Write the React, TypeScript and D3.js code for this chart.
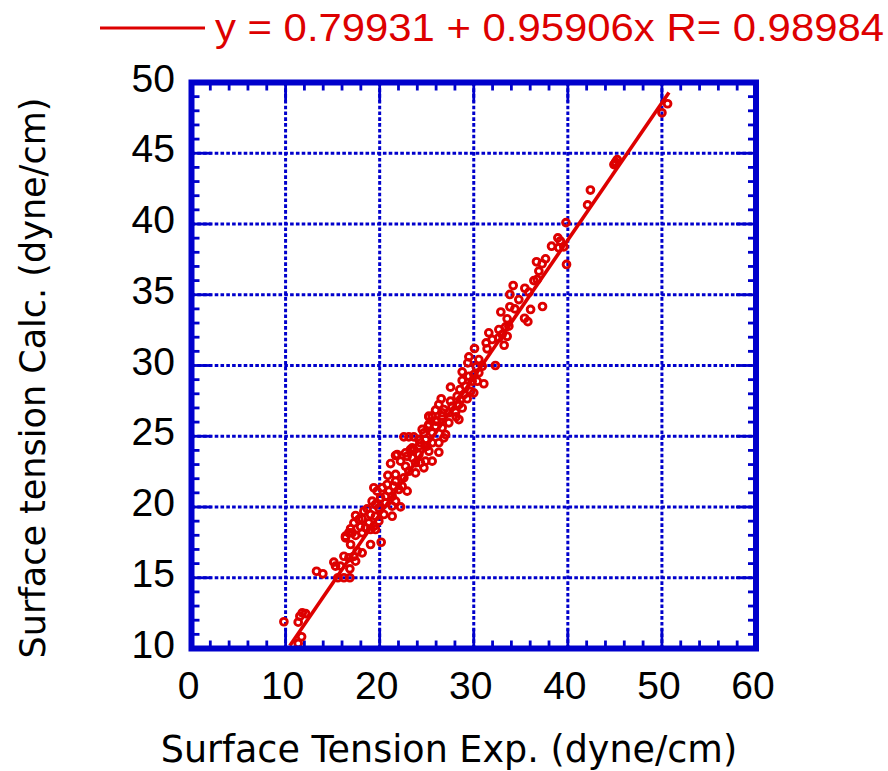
import React from "react";
import * as d3 from "d3";

const xTickLabels = ["0", "10", "20", "30", "40", "50", "60"];
const yTickLabels = ["10", "15", "20", "25", "30", "35", "40", "45", "50"];
const legendText = "y = 0.79931 + 0.95906x R= 0.98984";
const xTitle = "Surface Tension Exp. (dyne/cm)";
const yTitle = "Surface tension Calc. (dyne/cm)";

// fitted line end points as drawn [exp, calc]
const fitLine: [number, number][] = [
  [10.45, 10.2],
  [50.75, 49.3],
];

// scatter points [exp, calc]
const points: [number, number][] = [
  [50.6, 48.5], [50.0, 47.86], [45.07, 44.37], [45.0, 44.25], [45.25, 44.55], [44.9, 44.2],
  [42.4, 42.4], [42.1, 41.35], [39.8, 40.1], [38.94, 39.02], [38.27, 38.43], [39.04, 38.32],
  [39.57, 38.39], [39.2, 38.8], [39.86, 37.14], [37.63, 37.54], [36.67, 37.33], [37.27, 37.19],
  [36.92, 36.67], [36.74, 36.08], [36.39, 36.0], [34.19, 35.65], [35.43, 35.46], [35.86, 35.18],
  [33.84, 35.02], [34.79, 34.66], [33.84, 34.15], [34.37, 34.0], [36.04, 33.96], [37.31, 34.17],
  [32.88, 33.78], [33.55, 33.3], [35.4, 33.34], [35.75, 33.1], [31.6, 32.31], [33.38, 32.73],
  [33.02, 32.19], [33.55, 32.07], [32.67, 31.96], [33.23, 31.43], [31.32, 31.6], [31.42, 31.18],
  [30.08, 31.2], [32.3, 30.0], [29.48, 30.61], [29.37, 30.19], [30.26, 29.91], [28.77, 29.55],
  [30.01, 29.36], [29.48, 29.24], [28.77, 28.94], [30.37, 28.89], [31.07, 28.71], [27.53, 28.47],
  [28.52, 28.3], [29.66, 28.18], [28.95, 27.95], [28.6, 27.6], [29.3, 27.65], [26.54, 27.65],
  [27.53, 27.48], [26.29, 27.24], [28.42, 27.24], [26.82, 26.89], [28.77, 27.0], [25.94, 26.84],
  [28.07, 26.7], [25.23, 26.37], [26.64, 26.42], [28.42, 26.18], [28.13, 26.37], [25.94, 26.07],
  [27.35, 25.95], [25.15, 25.71], [26.64, 25.6], [24.52, 25.48], [25.58, 25.24], [27.0, 25.12],
  [22.57, 24.96], [23.1, 24.96], [23.63, 24.96], [24.17, 24.77], [24.88, 24.77], [26.82, 24.89],
  [26.29, 24.54], [23.46, 24.18], [25.05, 24.3], [25.23, 25.83], [25.94, 25.71], [24.7, 25.24],
  [24.34, 24.54], [26.29, 23.87], [23.28, 24.06], [22.75, 23.83], [21.86, 23.71], [22.22, 23.24],
  [23.46, 23.48], [24.17, 23.71], [24.88, 23.24], [25.58, 23.24], [21.16, 23.07], [22.75, 22.88],
  [23.81, 22.41], [24.7, 22.77], [23.1, 22.53], [20.87, 22.23], [21.69, 21.82], [22.57, 22.06],
  [20.8, 21.59], [19.38, 21.36], [19.73, 21.12], [20.98, 21.12], [22.04, 21.24], [22.92, 21.12],
  [20.1, 20.65], [21.33, 20.76], [19.2, 20.41], [20.63, 20.3], [21.69, 20.41], [18.67, 19.87],
  [19.91, 19.94], [21.33, 20.06], [22.22, 20.01], [17.44, 19.4], [19.03, 19.47], [20.45, 19.47],
  [21.33, 19.35], [18.14, 19.17], [19.91, 19.0], [17.26, 18.88], [18.85, 18.88], [17.97, 18.6],
  [16.91, 18.46], [19.03, 18.41], [18.14, 18.18], [16.37, 17.94], [17.44, 17.99], [20.16, 17.51],
  [19.03, 17.35], [19.56, 18.41], [17.08, 18.18], [16.37, 17.82], [16.91, 17.35], [18.14, 16.76],
  [17.61, 16.88], [17.26, 16.52], [16.2, 16.52], [16.73, 16.41], [17.44, 16.17], [15.13, 16.1],
  [15.31, 15.82], [15.84, 15.82], [16.83, 15.63], [13.29, 15.46], [13.96, 15.28], [15.56, 15.0],
  [16.2, 15.0], [16.83, 15.0], [11.77, 12.52], [12.12, 12.47], [11.52, 12.28], [9.82, 11.89],
  [11.34, 11.86], [11.7, 10.83], [11.34, 10.35],
  [25.23, 26.42], [26.64, 26.66], [26.1, 26.07], [24.17, 24.3], [24.88, 24.3], [23.63, 24.06],
  [25.23, 23.94], [25.58, 24.54], [22.92, 23.59], [23.81, 23.12], [24.34, 23.12], [21.69, 22.3],
  [22.39, 21.47], [21.5, 21.47], [20.27, 21.36], [20.63, 20.76], [19.56, 20.18], [18.32, 19.7],
  [17.79, 19.12], [19.56, 19.35], [16.73, 18.18], [18.5, 18.53], [19.38, 18.64], [25.58, 26.42],
  [27.35, 26.66], [27.7, 27.12], [28.24, 27.83], [29.13, 28.54], [29.83, 28.89], [30.54, 29.48],
  [30.9, 29.95], [30.54, 30.42], [31.96, 31.84], [32.67, 32.54], [33.73, 32.78], [21.69, 23.64],
  [30.0, 28.07],
];

const BLUE = "#0000cc";
const RED = "#dd0000";

export default function App() {
  const W = 888;
  const H = 771;
  const left = 191.5, right = 756, top = 82.5, bottom = 648.5;
  const x = d3.scaleLinear().domain([0, 60]).range([left, right]);
  const y = d3.scaleLinear().domain([10, 50]).range([bottom, top]);

  const xMajor = xTickLabels.map(Number);
  const yMajor = yTickLabels.map(Number);
  const xMinor = d3.range(0, 61, 2).filter((v) => v % 10 !== 0);
  const yMinor = d3.range(10, 51, 1).filter((v) => v % 5 !== 0);

  const line = d3.line<[number, number]>().x((d) => x(d[0])).y((d) => y(d[1]));

  const tickFont = "'Liberation Sans', Arial, Helvetica, sans-serif";
  const titleFont = "'DejaVu Sans', Verdana, sans-serif";
  const minorLen = 8, majorLen = 20;

  return (
    <svg width={W} height={H} style={{ position: "absolute", left: 0, top: 0, background: "#fff" }}>
      <defs>
        <clipPath id="plotClip">
          <rect x={left} y={top} width={right - left} height={bottom - top} />
        </clipPath>
      </defs>
      {/* grid */}
      <g stroke={BLUE} strokeWidth={3} strokeDasharray="3.6 2.2">
        {xMajor.filter((v) => v > 0 && v < 60).map((v) => (
          <line key={"gx" + v} x1={x(v)} x2={x(v)} y1={top} y2={bottom} />
        ))}
        {yMajor.filter((v) => v > 10 && v < 50).map((v) => (
          <line key={"gy" + v} y1={y(v)} y2={y(v)} x1={left} x2={right} />
        ))}
      </g>
      {/* ticks */}
      <g stroke={BLUE} strokeWidth={2.8}>
        {xMinor.map((v) => (
          <g key={"xm" + v}>
            <line x1={x(v)} x2={x(v)} y1={bottom} y2={bottom - minorLen} />
            <line x1={x(v)} x2={x(v)} y1={top} y2={top + minorLen} />
          </g>
        ))}
        {xMajor.map((v) => (
          <g key={"xM" + v}>
            <line x1={x(v)} x2={x(v)} y1={bottom} y2={bottom - majorLen} />
            <line x1={x(v)} x2={x(v)} y1={top} y2={top + majorLen} />
          </g>
        ))}
        {yMinor.map((v) => (
          <g key={"ym" + v}>
            <line y1={y(v)} y2={y(v)} x1={left} x2={left + minorLen} />
            <line y1={y(v)} y2={y(v)} x1={right} x2={right - minorLen} />
          </g>
        ))}
        {yMajor.map((v) => (
          <g key={"yM" + v}>
            <line y1={y(v)} y2={y(v)} x1={left} x2={left + majorLen} />
            <line y1={y(v)} y2={y(v)} x1={right} x2={right - majorLen} />
          </g>
        ))}
      </g>
      {/* data */}
      <g clipPath="url(#plotClip)">
        <path d={line(fitLine) || ""} fill="none" stroke={RED} strokeWidth={3.6} />
        {points.map((p, i) => (
          <circle key={i} cx={x(p[0])} cy={y(p[1])} r={3.4} fill="none" stroke={RED} strokeWidth={2.9} />
        ))}
      </g>
      {/* frame */}
      <rect x={left} y={top} width={right - left} height={bottom - top} fill="none" stroke={BLUE} strokeWidth={6} />
      {/* tick labels */}
      <g fontFamily={tickFont} fontSize={39} fill="#000">
        {xMajor.map((v, i) => (
          <text key={"xl" + v} x={x(v) - 3} y={699} textAnchor="middle">{xTickLabels[i]}</text>
        ))}
        {yMajor.map((v, i) => (
          <text key={"yl" + v} x={175} y={y(v) + 9} textAnchor="end">{yTickLabels[i]}</text>
        ))}
      </g>
      {/* titles */}
      <text x={449} y={762} textAnchor="middle" fontFamily={titleFont} fontSize={36.5} fill="#000">{xTitle}</text>
      <text transform="translate(45,378) rotate(-90)" textAnchor="middle" fontFamily={titleFont} fontSize={35} fill="#000">{yTitle}</text>
      {/* legend */}
      <line x1={100} x2={205} y1={28} y2={28} stroke={RED} strokeWidth={3} />
      <text x={215} y={41} fontFamily={tickFont} fontSize={39} fill={RED} textLength={669} lengthAdjust="spacingAndGlyphs">{legendText}</text>
    </svg>
  );
}
